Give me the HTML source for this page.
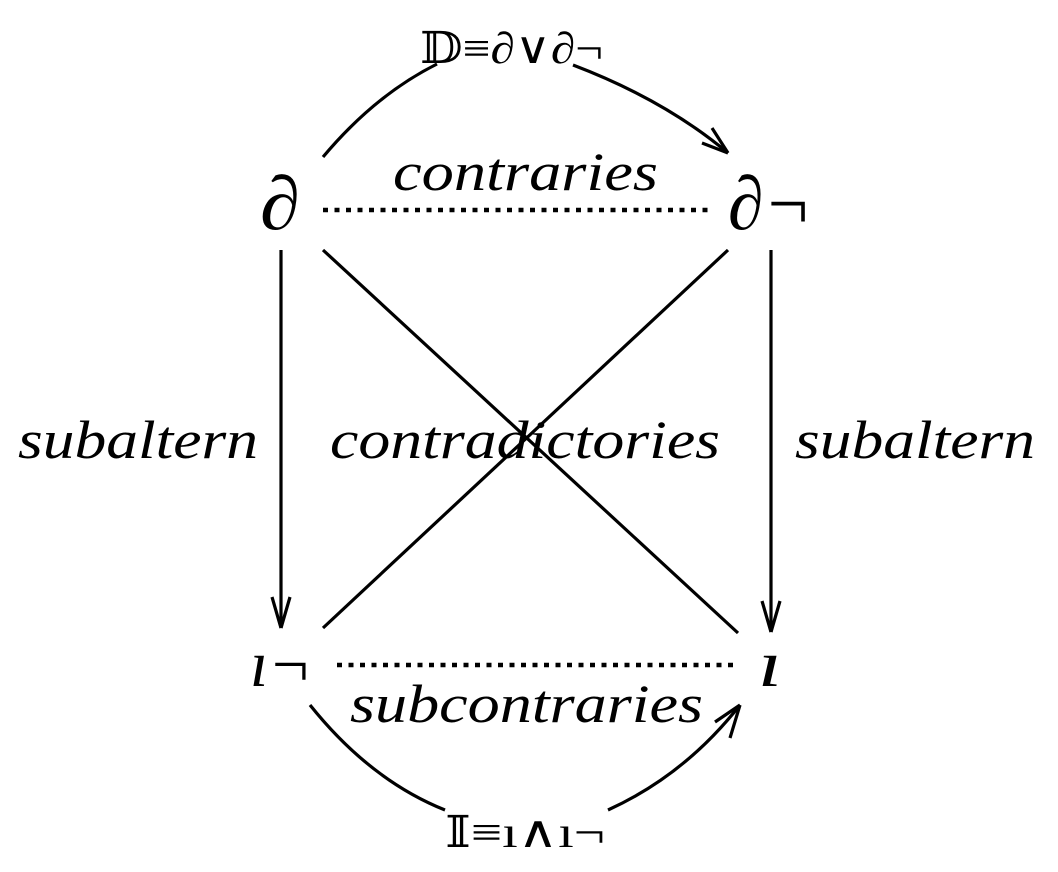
<!DOCTYPE html>
<html><head><meta charset="utf-8"><style>
html,body{margin:0;padding:0;background:#fff;}
svg{display:block;}
text{font-family:"Liberation Serif","DejaVu Serif",serif;fill:#000;}
.it{font-style:italic;}
</style></head><body>
<svg width="1058" height="872" viewBox="0 0 1058 872" xmlns="http://www.w3.org/2000/svg">
<g stroke="#000" stroke-width="3.2" fill="none" stroke-linecap="butt">
  <path d="M323,157 Q375,95 437,64"/>
  <path d="M573,65 Q665,100 728,153"/>
  <path d="M728,153 L712,128 M728,153 L702,143"/>
  <line x1="323" y1="210" x2="708" y2="210" stroke-dasharray="5,6.5" stroke-width="4.5"/>
  <line x1="337" y1="665" x2="738" y2="665" stroke-dasharray="5,6.5" stroke-width="4.5"/>
  <line x1="281" y1="250" x2="281" y2="628"/>
  <path d="M281,628 L272,597 M281,628 L290,597"/>
  <line x1="771" y1="250" x2="771" y2="632"/>
  <path d="M771,632 L762,601 M771,632 L780,601"/>
  <line x1="323" y1="250" x2="738" y2="633"/>
  <line x1="728" y1="250" x2="323" y2="628"/>
  <path d="M310,705 Q370,780 445,810"/>
  <path d="M608,810 Q685,775 740,705"/>
  <path d="M740,705 L715,722 M740,705 L730,738"/>
</g>
<text x="420" y="63" font-size="44" textLength="183" lengthAdjust="spacingAndGlyphs">𝔻≡∂∨∂¬</text>
<text x="260" y="229" font-size="76" class="it" textLength="40" lengthAdjust="spacingAndGlyphs">∂</text>
<text x="728" y="229" font-size="76" class="it" textLength="84" lengthAdjust="spacingAndGlyphs">∂¬</text>
<text x="393" y="190" font-size="54" class="it" textLength="265" lengthAdjust="spacingAndGlyphs">contraries</text>
<text x="18" y="458" font-size="54" class="it" textLength="240" lengthAdjust="spacingAndGlyphs">subaltern</text>
<text x="330" y="458" font-size="54" class="it" textLength="390" lengthAdjust="spacingAndGlyphs">contradictories</text>
<text x="795" y="458" font-size="54" class="it" textLength="240" lengthAdjust="spacingAndGlyphs">subaltern</text>
<text x="250" y="686" font-size="66" class="it" textLength="62" lengthAdjust="spacingAndGlyphs">ı¬</text>
<text x="758" y="686" font-size="66" class="it" textLength="24" lengthAdjust="spacingAndGlyphs">ı</text>
<text x="350" y="722" font-size="54" class="it" textLength="353" lengthAdjust="spacingAndGlyphs">subcontraries</text>
<text x="445" y="847" font-size="44" textLength="160" lengthAdjust="spacingAndGlyphs">𝕀≡ı∧ı¬</text>
</svg>
</body></html>
